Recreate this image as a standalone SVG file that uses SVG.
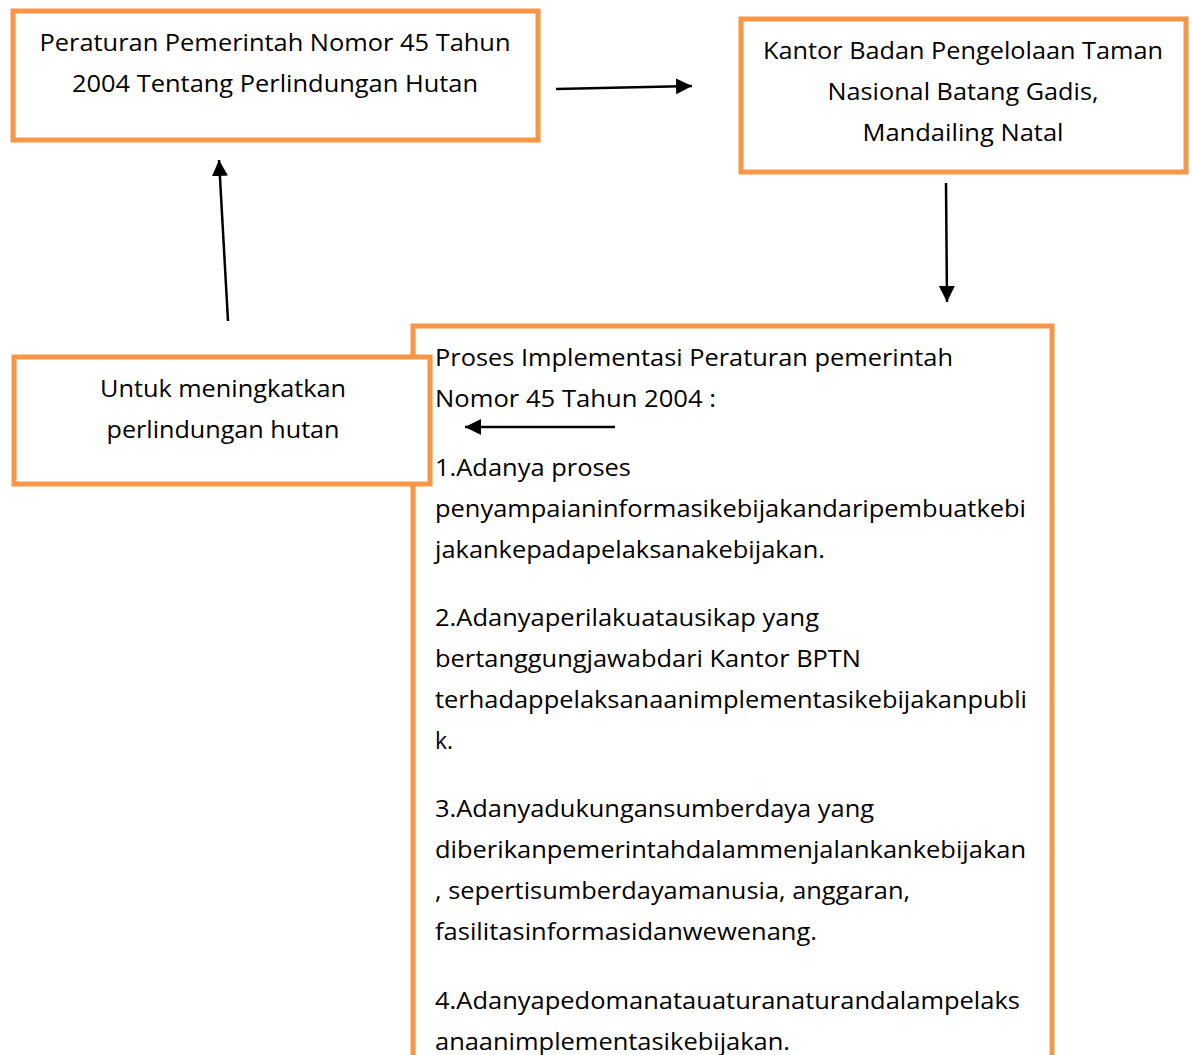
<svg xmlns="http://www.w3.org/2000/svg" width="1192" height="1055" viewBox="0 0 1192 1055">
<style>
.box{fill:#ffffff;stroke:#F79646;stroke-width:5}
.t{font-family:"Open Sans","Noto Sans",sans-serif;font-size:23px;fill:#000}
.c{text-anchor:middle}
.ln{stroke:#000;stroke-width:2.5;fill:none;marker-end:url(#ah)}
</style>
<defs>
<marker id="ah" markerUnits="userSpaceOnUse" markerWidth="18" markerHeight="16" refX="16" refY="8" orient="auto">
<path d="M0,0 L16,8 L0,16 Z" fill="#000"/>
</marker>
</defs>
<rect width="1192" height="1055" fill="#fff"/>
<g id="node-peraturan">
<rect class="box" x="13" y="11" width="525" height="129"/>
<text class="t c" x="275" y="51" textLength="471" lengthAdjust="spacingAndGlyphs">Peraturan Pemerintah Nomor 45 Tahun</text>
<text class="t c" x="275" y="92" textLength="406" lengthAdjust="spacingAndGlyphs">2004 Tentang Perlindungan Hutan</text>
</g>
<g id="node-kantor">
<rect class="box" x="741" y="19" width="445" height="153"/>
<text class="t c" x="963" y="59" textLength="400" lengthAdjust="spacingAndGlyphs">Kantor Badan Pengelolaan Taman</text>
<text class="t c" x="963" y="100" textLength="271" lengthAdjust="spacingAndGlyphs">Nasional Batang Gadis,</text>
<text class="t c" x="963" y="141" textLength="201" lengthAdjust="spacingAndGlyphs">Mandailing Natal</text>
</g>
<g id="node-proses">
<rect class="box" x="413" y="326" width="639" height="800"/>
<text class="t" x="435" y="366" textLength="518" lengthAdjust="spacingAndGlyphs">Proses Implementasi Peraturan pemerintah</text>
<text class="t" x="435" y="407" textLength="281" lengthAdjust="spacingAndGlyphs">Nomor 45 Tahun 2004 :</text>
<text class="t" x="435" y="476" textLength="196" lengthAdjust="spacingAndGlyphs">1.Adanya proses</text>
<text class="t" x="435" y="517" textLength="591" lengthAdjust="spacingAndGlyphs">penyampaianinformasikebijakandaripembuatkebi</text>
<text class="t" x="435" y="558" textLength="390" lengthAdjust="spacingAndGlyphs">jakankepadapelaksanakebijakan.</text>
<text class="t" x="435" y="626" textLength="384" lengthAdjust="spacingAndGlyphs">2.Adanyaperilakuatausikap yang</text>
<text class="t" x="435" y="667" textLength="426" lengthAdjust="spacingAndGlyphs">bertanggungjawabdari Kantor BPTN</text>
<text class="t" x="435" y="708" textLength="592" lengthAdjust="spacingAndGlyphs">terhadappelaksanaanimplementasikebijakanpubli</text>
<text class="t" x="435" y="749">k.</text>
<text class="t" x="435" y="817" textLength="439" lengthAdjust="spacingAndGlyphs">3.Adanyadukungansumberdaya yang</text>
<text class="t" x="435" y="858" textLength="591" lengthAdjust="spacingAndGlyphs">diberikanpemerintahdalammenjalankankebijakan</text>
<text class="t" x="435" y="899" textLength="475" lengthAdjust="spacingAndGlyphs">, sepertisumberdayamanusia, anggaran,</text>
<text class="t" x="435" y="940" textLength="382" lengthAdjust="spacingAndGlyphs">fasilitasinformasidanwewenang.</text>
<text class="t" x="435" y="1009" textLength="585" lengthAdjust="spacingAndGlyphs">4.Adanyapedomanatauaturanaturandalampelaks</text>
<text class="t" x="435" y="1050" textLength="355" lengthAdjust="spacingAndGlyphs">anaanimplementasikebijakan.</text>
</g>
<g id="node-untuk">
<rect class="box" x="14" y="357" width="416" height="127"/>
<text class="t c" x="223" y="397" textLength="246" lengthAdjust="spacingAndGlyphs">Untuk meningkatkan</text>
<text class="t c" x="223" y="438" textLength="233" lengthAdjust="spacingAndGlyphs">perlindungan hutan</text>
</g>
<g id="connectors">
<line class="ln" x1="556" y1="89" x2="692" y2="86"/>
<line class="ln" x1="946" y1="183" x2="947" y2="302"/>
<line class="ln" x1="615" y1="427" x2="465" y2="427"/>
<line class="ln" x1="228" y1="321" x2="219" y2="160"/>
</g>
</svg>
